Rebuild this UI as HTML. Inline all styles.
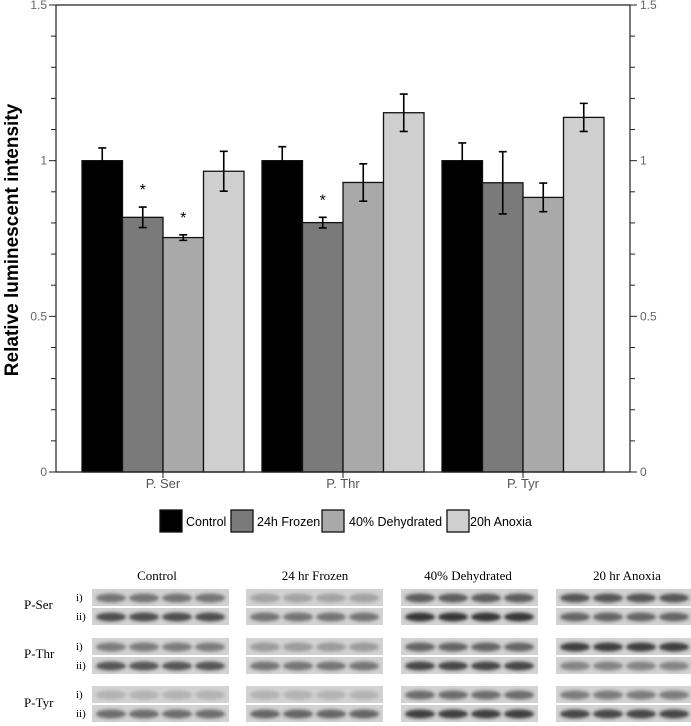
<!DOCTYPE html>
<html><head><meta charset="utf-8"><style>
body{margin:0;background:#fff;width:691px;height:726px;overflow:hidden}
svg{display:block}
</style></head><body>
<svg id="chart" width="691" height="726" font-family="Liberation Sans, sans-serif">
<defs><filter id="blur" x="-20%" y="-50%" width="140%" height="200%"><feGaussianBlur stdDeviation="1.5"/></filter></defs>
<g id="plot"></g>
<g id="blots"></g>
</svg>
<script>
const categories = ["P. Ser","P. Thr","P. Tyr"];
const seriesNames = ["Control","24h Frozen","40% Dehydrated","20h Anoxia"];
const seriesColors = ["#000000","#7a7a7a","#a9a9a9","#cfcfcf"];
const valControl = [1, 1, 1];
const valFrozen = [0.818, 0.801, 0.929];
const valDehyd = [0.753, 0.930, 0.882];
const valAnoxia = [0.966, 1.154, 1.139];
const errControl = [0.041, 0.045, 0.057];
const errFrozen = [0.033, 0.017, 0.1];
const errDehyd = [0.009, 0.06, 0.046];
const errAnoxia = [0.064, 0.06, 0.045];
const stars = [[0,1],[0,2],[1,1]];
const yTicks = [0, 0.5, 1, 1.5];
const yTickLabels = ["0","0.5","1","1.5"];

const NS="http://www.w3.org/2000/svg";
function mk(tag, attrs, parent){const e=document.createElementNS(NS,tag);for(const k in attrs)e.setAttribute(k,attrs[k]);parent.appendChild(e);return e;}
const L=56,R=630,T=5,B=472,yMax=1.5;
const y=v=>B-(v/yMax)*(B-T);
const groupW=180, barW=40.5;
const xBar=(g,s)=>L+groupW*g+26+s*barW;
const plot=document.getElementById('plot');
const vals=[valControl,valFrozen,valDehyd,valAnoxia];
const errs=[errControl,errFrozen,errDehyd,errAnoxia];
for(let s=0;s<4;s++){for(let g=0;g<3;g++){
  const v=vals[s][g];
  const r=mk('rect',{x:xBar(g,s),y:y(v),width:barW,height:B-y(v),fill:seriesColors[s],stroke:'#111','stroke-width':1.3},plot);
  
  
  const cx=xBar(g,s)+barW/2, e=errs[s][g];
  const eb=mk('path',{d:`M${cx},${y(v+e)}V${y(v-e)}M${cx-4},${y(v+e)}H${cx+4}M${cx-4},${y(v-e)}H${cx+4}`,stroke:'#000','stroke-width':1.6,fill:'none'},plot);
  
  
}}
stars.forEach(([g,s])=>{const v=vals[s][g]+errs[s][g];
  const t=mk('text',{x:xBar(g,s)+barW/2,y:y(v)-12,'text-anchor':'middle','font-size':16},plot);t.textContent='*';
  
  });
const ax=mk('path',{d:`M${L},${T}V${B}H${R}V${T}H${L}`,stroke:'#222','stroke-width':1.2,fill:'none'},plot);


for(let i=0;i<=15;i++){const v=i/10,yy=y(v),len=(i%5==0)?7:5;
  mk('line',{x1:L-len,x2:L,y1:yy,y2:yy,stroke:'#222','stroke-width':1},plot);
  mk('line',{x1:R,x2:R+len,y1:yy,y2:yy,stroke:'#222','stroke-width':1},plot);}
yTicks.forEach((v,i)=>{
  const a=mk('text',{x:L-9,y:y(v)+4,'text-anchor':'end','font-size':12,fill:'#666'},plot);a.textContent=yTickLabels[i];
  
  
  const b=mk('text',{x:R+10,y:y(v)+4,'font-size':12,fill:'#666'},plot);b.textContent=yTickLabels[i];
  
  });
categories.forEach((c,g)=>{const cx=xBar(g,2);
  mk('line',{x1:cx,x2:cx,y1:B,y2:B+6,stroke:'#222'},plot);
  const t=mk('text',{x:cx,y:B+16,'text-anchor':'middle','font-size':13,fill:'#555'},plot);t.textContent=c;
  
  });
const yt=mk('text',{x:0,y:0,transform:'translate(18,240) rotate(-90)','text-anchor':'middle','font-size':19,'font-weight':'bold'},plot);
yt.textContent='Relative luminescent  intensity';


const lgX=[160,231,322,447], lgT=[186,257,349,470];
seriesNames.forEach((n,s)=>{
  const g=mk('g',{},plot);
  
  
  mk('rect',{x:lgX[s],y:510,width:22,height:22,fill:seriesColors[s],stroke:'#111','stroke-width':1.3},g);
  const t=mk('text',{x:lgT[s],y:526,'font-size':12.5},g);t.textContent=n;});
const bl=document.getElementById('blots');
const heads=["Control","24 hr Frozen","40% Dehydrated","20 hr Anoxia"];
const headX=[157,315,468,627];
const stripX=[92,246,401,556], stripW=[137,137,137,136];
heads.forEach((h,i)=>{const t=mk('text',{x:headX[i],y:580,'text-anchor':'middle','font-size':13,'font-family':'Liberation Serif, serif'},bl);t.textContent=h;
  
  });
const rowLabels=["P-Ser","P-Thr","P-Tyr"], rowLY=[609,658,707];
const stripY=[[589,608],[638,657],[686,705]];
const dark=[[[0.6,0.3,0.75,0.8],[0.85,0.6,1,0.7]],[[0.55,0.35,0.7,0.95],[0.8,0.6,0.9,0.5]],[[0.2,0.2,0.65,0.55],[0.65,0.7,0.95,0.9]]];
rowLabels.forEach((r,ri)=>{
  const t=mk('text',{x:24,y:rowLY[ri],'font-size':13,'font-family':'Liberation Serif, serif'},bl);t.textContent=r;
  
  
  ["i)","ii)"].forEach((s,si)=>{
    const yy=stripY[ri][si];
    const lt=mk('text',{x:76,y:yy+12,'font-size':11,'font-family':'Liberation Serif, serif'},bl);lt.textContent=s;
    
    
    for(let gi=0;gi<4;gi++){
      const st=mk('rect',{x:stripX[gi],y:yy,width:stripW[gi],height:17,fill:'#d2d2d2'},bl);
      
      
      const d=dark[ri][si][gi];
      for(let k=0;k<4;k++){
        mk('ellipse',{cx:stripX[gi]+19+k*33,cy:yy+9,rx:15,ry:4.5,fill:'#1a1a1a',opacity:d*0.85,filter:'url(#blur)'},bl);
      }
    }
  });
});
</script>
</body></html>
